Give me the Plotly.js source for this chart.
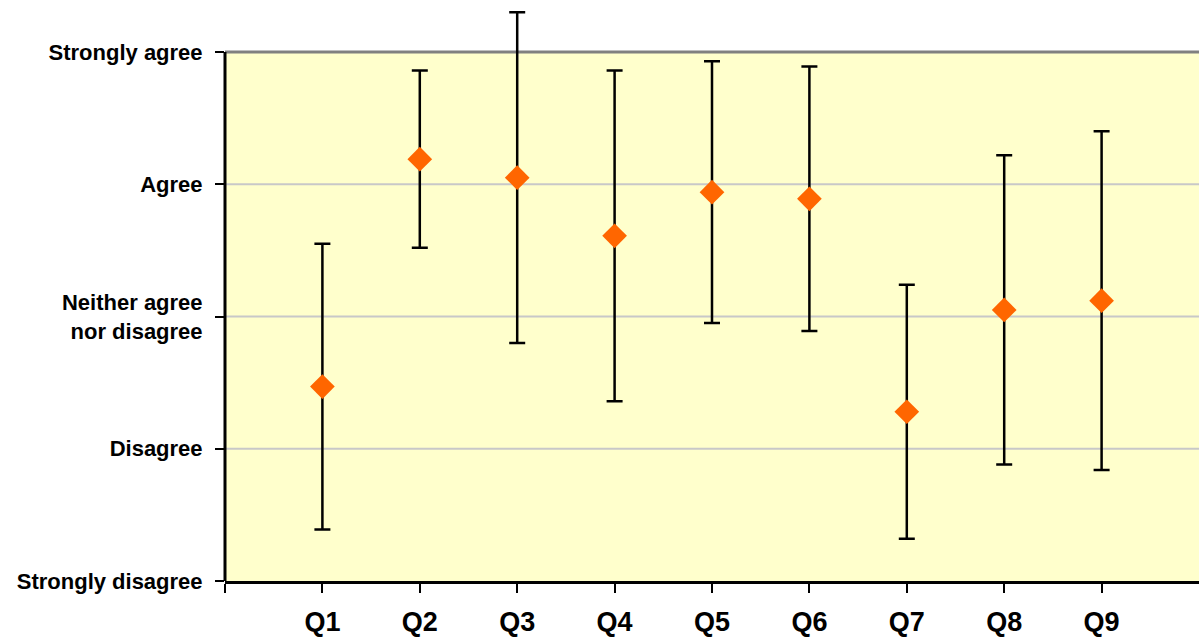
<!DOCTYPE html>
<html>
<head>
<meta charset="utf-8">
<script src="https://cdn.plot.ly/plotly-3.0.1.min.js"></script>
<style>html,body{margin:0;padding:0;background:#fff;}#chart{width:1199px;height:637px;}</style>
</head>
<body>
<div id="chart"></div>
<script>
const categories = ['Q1','Q2','Q3','Q4','Q5','Q6','Q7','Q8','Q9'];
const meanScores = [2.47, 4.19, 4.05, 3.61, 3.94, 3.89, 2.28, 3.05, 3.12];
const errorSizes = [1.08, 0.67, 1.25, 1.25, 0.99, 1.00, 0.96, 1.17, 1.28];
const scaleValues = [1, 2, 3, 4, 5];
const scaleLabels = ['Strongly disagree', 'Disagree', 'Neither agree<br>nor disagree', 'Agree', 'Strongly agree'];

const xPos = categories.map((c, i) => i + 1);
const yMin = scaleValues[0];
const yMax = scaleValues[scaleValues.length - 1];

const trace = {
  x: xPos,
  y: meanScores,
  type: 'scatter',
  mode: 'markers',
  cliponaxis: false,
  marker: {symbol: 'diamond', size: 19, color: '#FF6600', line: {width: 0}},
  error_y: {type: 'data', array: errorSizes, visible: true, color: '#000000', thickness: 2.5, width: 8},
  hoverinfo: 'x+y'
};

const shapes = [
  {type: 'rect', xref: 'paper', yref: 'y', x0: 0, x1: 1, y0: yMin, y1: yMax,
   fillcolor: '#FFFFCC', line: {width: 0}, layer: 'below'}
];
scaleValues.slice(1, -1).forEach(v => shapes.push(
  {type: 'line', xref: 'paper', yref: 'y', x0: 0, x1: 1, y0: v, y1: v,
   line: {color: '#C8C8C8', width: 2}, layer: 'below'}));
shapes.push(
  {type: 'line', xref: 'paper', yref: 'y', x0: 0, x1: 1, y0: yMax, y1: yMax,
   line: {color: '#808080', width: 3}, layer: 'below'},
  {type: 'line', xref: 'paper', yref: 'y', x0: 0, x1: 0, y0: yMin, y1: yMax,
   line: {color: '#000000', width: 3}, layer: 'below'});

const layout = {
  width: 1199, height: 637,
  margin: {l: 225, r: 0, t: 6, b: 56, pad: 0},
  paper_bgcolor: '#FFFFFF',
  plot_bgcolor: '#FFFFFF',
  showlegend: false,
  font: {family: 'Liberation Sans, Arial, sans-serif', color: '#000000'},
  xaxis: {
    range: [0, 10],
    tickvals: [0].concat(xPos),
    ticktext: [''].concat(categories),
    showgrid: false, zeroline: false,
    showline: true, linecolor: '#000000', linewidth: 3,
    ticks: 'outside', ticklen: 9, tickwidth: 2, tickcolor: '#000000',
    ticklabelstandoff: 6,
    tickfont: {size: 27, family: 'Liberation Sans, Arial, sans-serif', weight: 'bold'},
    fixedrange: true
  },
  yaxis: {
    range: [1, 5.348],
    tickvals: scaleValues,
    ticktext: scaleLabels,
    showgrid: false,
    zeroline: false,
    showline: false,
    ticks: 'outside', ticklen: 9, tickwidth: 2, tickcolor: '#000000',
    ticklabelstandoff: 8,
    tickfont: {size: 22, family: 'Liberation Sans, Arial, sans-serif', weight: 'bold'},
    fixedrange: true
  },
  shapes: shapes
};

Plotly.newPlot('chart', [trace], layout, {displayModeBar: false, staticPlot: true});
</script>
</body>
</html>
